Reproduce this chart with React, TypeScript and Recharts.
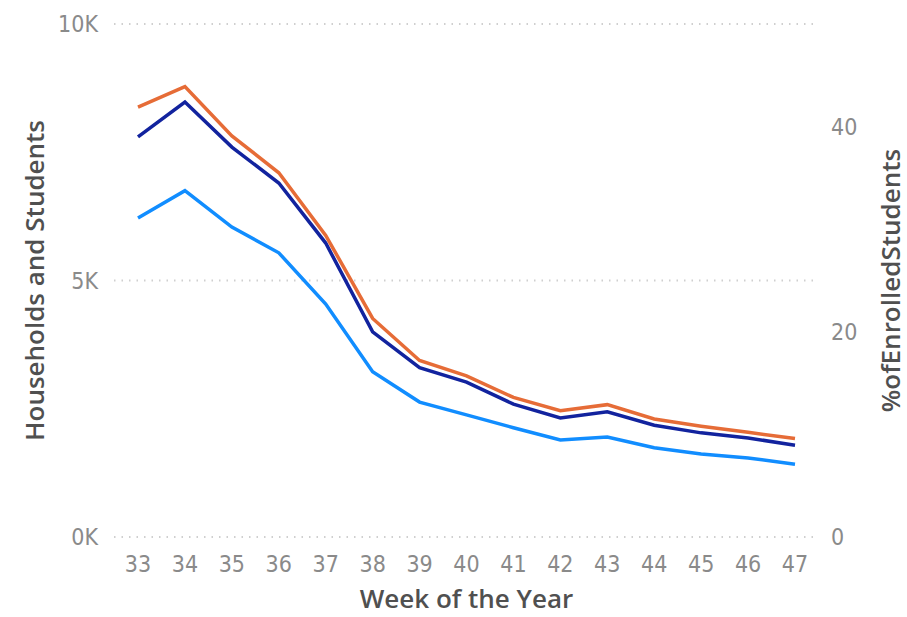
import React from 'react';
import { CartesianGrid, Label, Line, LineChart, XAxis, YAxis } from 'recharts';

const weeks = ['33', '34', '35', '36', '37', '38', '39', '40', '41', '42', '43', '44', '45', '46', '47'];
const households = [6220, 6750, 6040, 5540, 4540, 3220, 2630, 2380, 2130, 1890, 1950, 1740, 1620, 1540, 1420];
const students = [7800, 8480, 7600, 6900, 5730, 4000, 3300, 3020, 2590, 2320, 2440, 2180, 2030, 1930, 1790];
const pctEnrolled = [41.9, 43.9, 39.1, 35.5, 29.4, 21.3, 17.2, 15.7, 13.6, 12.3, 12.9, 11.5, 10.8, 10.2, 9.6];
const leftTicks = [0, 5000, 10000];
const rightTicks = [0, 20, 40];

const data = weeks.map((week, i) => ({
  week,
  households: households[i],
  students: students[i],
  pct: pctEnrolled[i],
}));

const tickFont = {
  fill: '#8a8a8a',
  fontSize: 23,
  fontFamily: '"Liberation Sans Narrow", "DejaVu Sans Condensed", sans-serif',
};

const titleStyle = {
  fill: '#505050',
  fontSize: 26,
  fontWeight: 600,
  fontFamily: '"Open Sans", sans-serif',
};

const SideTitle = ({ viewBox, value, dx }: any) => {
  const x = viewBox.x + dx;
  const y = viewBox.y + viewBox.height / 2;
  return (
    <text x={x} y={y} transform={`rotate(-90 ${x} ${y})`} textAnchor="middle" dominantBaseline="central" {...titleStyle}>
      {value}
    </text>
  );
};

export default function App() {
  return (
    <div style={{ position: 'fixed', left: 0, top: 0, width: 907, height: 617, background: '#fff' }}>
      <LineChart width={907} height={617} data={data} margin={{ top: 24, right: 0, bottom: 0, left: 0 }}>
        <CartesianGrid yAxisId="left" vertical={false} stroke="#cfcfcf" strokeDasharray="1.5 6" strokeWidth={2} />
        <XAxis
          dataKey="week"
          height={80}
          padding={{ left: 24, right: 24 }}
          axisLine={false}
          tickLine={false}
          tickMargin={13}
          tick={tickFont}
          interval={0}
        >
          <Label
            content={({ viewBox }: any) => (
              <text x={viewBox.x + viewBox.width / 2} y={598} textAnchor="middle" dominantBaseline="central" {...titleStyle}>
                Week of the Year
              </text>
            )}
          />
        </XAxis>
        <YAxis
          yAxisId="left"
          width={114}
          domain={[0, 10000]}
          ticks={leftTicks}
          tickFormatter={(v: number) => `${v / 1000}K`}
          axisLine={false}
          tickLine={false}
          tickMargin={10}
          tick={tickFont}
        >
          <Label content={(p: any) => <SideTitle {...p} value="Households and Students" dx={34} />} />
        </YAxis>
        <YAxis
          yAxisId="right"
          orientation="right"
          width={88}
          domain={[0, 50]}
          ticks={rightTicks}
          axisLine={false}
          tickLine={false}
          tickMargin={6}
          tick={tickFont}
        >
          <Label content={(p: any) => <SideTitle {...p} value="%ofEnrolledStudents" dx={71} />} />
        </YAxis>
        <Line yAxisId="left" dataKey="households" stroke="#118DFF" strokeWidth={3.5} dot={false} isAnimationActive={false} />
        <Line yAxisId="left" dataKey="students" stroke="#12239E" strokeWidth={3.5} dot={false} isAnimationActive={false} />
        <Line yAxisId="right" dataKey="pct" stroke="#E66C37" strokeWidth={3.5} dot={false} isAnimationActive={false} />
      </LineChart>
    </div>
  );
}
